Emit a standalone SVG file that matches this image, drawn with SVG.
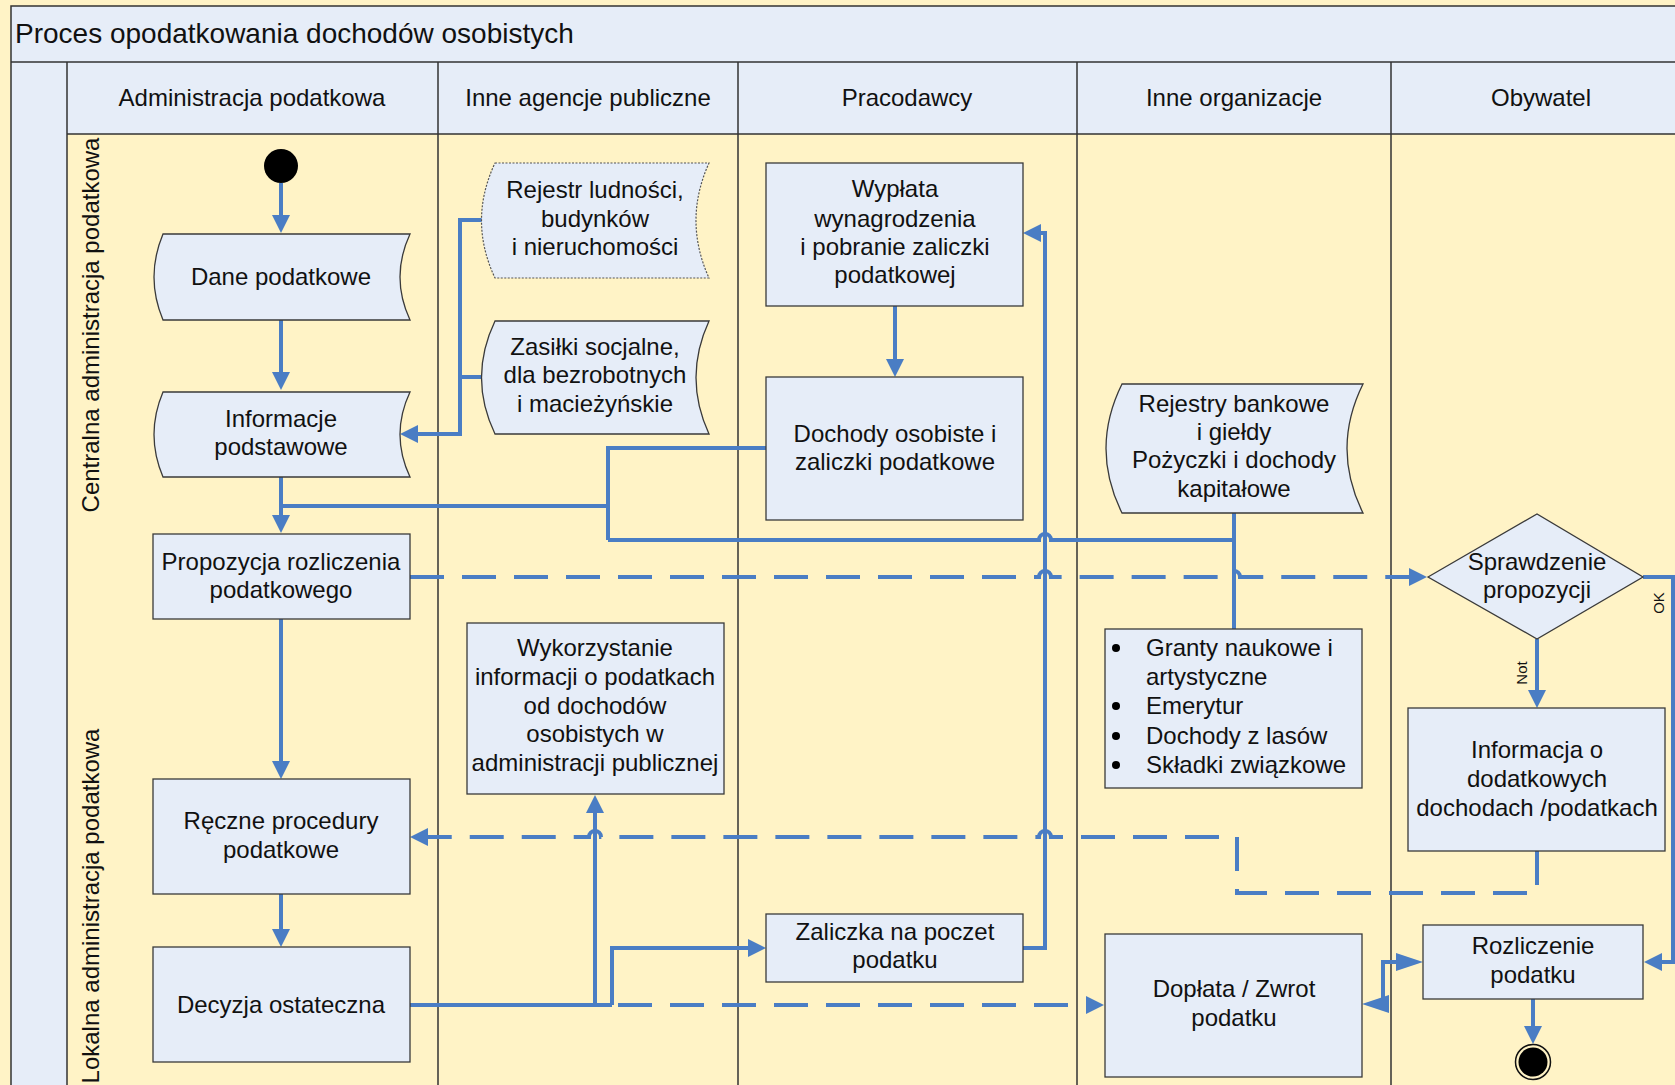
<svg xmlns="http://www.w3.org/2000/svg" width="1675" height="1085" viewBox="0 0 1675 1085">
<defs>
<style>
.bg{fill:#FFF3C6}
.hd{fill:#E6EDF8;stroke:none}
.ln{stroke:#333;stroke-width:1.5;fill:none}
.box{fill:#E6EDF8;stroke:#3a3a3a;stroke-width:1.3}
.dot{fill:#E6EDF8;stroke:#555;stroke-width:1.2;stroke-dasharray:2 1.5}
text{font-family:"Liberation Sans",Arial,sans-serif;fill:#111}
.t{font-size:24px;text-anchor:middle}
.tl{font-size:24px}
.ttl{font-size:28px}
.sm{font-size:15px;text-anchor:middle}
.c{fill:none;stroke:#4A7DC4;stroke-width:4}
.d{fill:none;stroke:#4A7DC4;stroke-width:4;stroke-dasharray:34 18}
</style>
<marker id="ah" viewBox="0 0 18 18" refX="10" refY="9" markerWidth="18" markerHeight="18" markerUnits="userSpaceOnUse" orient="auto-start-reverse">
<path d="M0,0 L18,9 L0,18 z" fill="#4A7DC4"/>
</marker>
<marker id="ah2" viewBox="0 0 27 18" refX="17" refY="9" markerWidth="27" markerHeight="18" markerUnits="userSpaceOnUse" orient="auto-start-reverse">
<path d="M0,0 L27,9 L0,18 z" fill="#4A7DC4"/>
</marker>
</defs>
<rect class="bg" x="0" y="0" width="1675" height="1085"/>
<g id="frame">
<rect class="hd" x="11" y="6" width="1680" height="56"/>
<rect class="hd" x="11" y="62" width="56" height="1030"/>
<rect class="hd" x="67" y="62" width="1620" height="72"/>
<path class="ln" d="M11,1085 V6 H1675 M11,62 H1675 M67,134 H1675 M67,62 V1085 M438,62 V1085 M738,62 V1085 M1077,62 V1085 M1391,62 V1085"/>
<text class="ttl" x="15" y="43">Proces opodatkowania dochodów osobistych</text>
<text class="t" x="252" y="106">Administracja podatkowa</text>
<text class="t" x="588" y="106">Inne agencje publiczne</text>
<text class="t" x="907" y="106">Pracodawcy</text>
<text class="t" x="1234" y="106">Inne organizacje</text>
<text class="t" x="1541" y="106">Obywatel</text>
<text class="t" transform="translate(99,325) rotate(-90)">Centralna administracja podatkowa</text>
<text class="t" transform="translate(99,906) rotate(-90)">Lokalna administracja podatkowa</text>
</g>
<g id="connectors">
<path class="c" d="M281,183 V225" marker-end="url(#ah)"/>
<path class="c" d="M281,320 V382" marker-end="url(#ah)"/>
<path class="c" d="M482,220 H460 V434 H408" marker-end="url(#ah)"/>
<path class="c" d="M482,377 H460"/>
<path class="c" d="M281,477 V525" marker-end="url(#ah)"/>
<path class="c" d="M766,448 H608 V540"/>
<path class="c" d="M608,506 H281"/>
<path class="c" d="M608,540 H1039 a6,6 0 0 1 12,0 H1234"/>
<path class="c" d="M1234,513 V629"/>
<path class="c" d="M895,306 V369" marker-end="url(#ah)"/>
<path class="d" d="M410,577 H1039 a6,6 0 0 1 12,0 H1228 a6,6 0 0 1 12,0 H1419" marker-end="url(#ah)"/>
<path class="c" d="M1537,639 V700" marker-end="url(#ah)"/>
<path class="c" d="M1643,577 H1673 V962 H1652" marker-end="url(#ah)"/>
<path class="d" d="M1537,851 V893 H1237 V837 H1051 a6,6 0 0 0 -12,0 H601 a6,6 0 0 0 -12,0 H418" marker-end="url(#ah)"/>
<path class="c" d="M281,619 V771" marker-end="url(#ah)"/>
<path class="c" d="M281,894 V939" marker-end="url(#ah)"/>
<path class="c" d="M410,1005 H612"/>
<path class="c" d="M595,1005 V803" marker-end="url(#ah)"/>
<path class="c" d="M612,1005 V948 H758" marker-end="url(#ah)"/>
<path class="d" d="M618,1005 H1096" marker-end="url(#ah)"/>
<path class="c" d="M1023,948 H1045 V233 H1031" marker-end="url(#ah)"/>
<path class="c" d="M1372,1004 H1383 V962 H1413" marker-start="url(#ah2)" marker-end="url(#ah2)"/>
<path class="c" d="M1533,999 V1036" marker-end="url(#ah)"/>
<text class="sm" transform="translate(1664,603) rotate(-90)">OK</text>
<text class="sm" transform="translate(1527,673) rotate(-90)">Not</text>
</g>
<g id="start"><circle cx="281" cy="166" r="17" fill="#000"/></g>
<g id="dane">
<path class="box" d="M163,234 H410 Q390,277 410,320 H163 Q145,277 163,234 Z"/>
<text class="t" x="281" y="285">Dane podatkowe</text>
</g>
<g id="informacje">
<path class="box" d="M163,392 H410 Q390,434.5 410,477 H163 Q145,434.5 163,392 Z"/>
<text class="t" x="281" y="427">Informacje</text>
<text class="t" x="281" y="455">podstawowe</text>
</g>
<g id="rejestr">
<path class="dot" d="M495,163 H709 Q683,220.5 709,278 H495 Q468,220.5 495,163 Z"/>
<text class="t" x="595" y="198">Rejestr ludności,</text>
<text class="t" x="595" y="227">budynków</text>
<text class="t" x="595" y="255">i nieruchomości</text>
</g>
<g id="zasilki">
<path class="box" d="M495,321 H709 Q683,377.5 709,434 H495 Q468,377.5 495,321 Z"/>
<text class="t" x="595" y="355">Zasiłki socjalne,</text>
<text class="t" x="595" y="383">dla bezrobotnych</text>
<text class="t" x="595" y="412">i macieżyńskie</text>
</g>
<g id="wyplata">
<rect class="box" x="766" y="163" width="257" height="143"/>
<text class="t" x="895" y="197">Wypłata</text>
<text class="t" x="895" y="227">wynagrodzenia</text>
<text class="t" x="895" y="255">i pobranie zaliczki</text>
<text class="t" x="895" y="283">podatkowej</text>
</g>
<g id="dochody">
<rect class="box" x="766" y="377" width="257" height="143"/>
<text class="t" x="895" y="442">Dochody osobiste i</text>
<text class="t" x="895" y="470">zaliczki podatkowe</text>
</g>
<g id="rejestry-bankowe">
<path class="box" d="M1122,384 H1363 Q1331,448.5 1363,513 H1122 Q1090,448.5 1122,384 Z"/>
<text class="t" x="1234" y="412">Rejestry bankowe</text>
<text class="t" x="1234" y="440">i giełdy</text>
<text class="t" x="1234" y="468">Pożyczki i dochody</text>
<text class="t" x="1234" y="497">kapitałowe</text>
</g>
<g id="propozycja">
<rect class="box" x="153" y="534" width="257" height="85"/>
<text class="t" x="281" y="570">Propozycja rozliczenia</text>
<text class="t" x="281" y="598">podatkowego</text>
</g>
<g id="sprawdzenie">
<path class="box" d="M1428,577 L1537,514 L1643,577 L1537,639 Z"/>
<text class="t" x="1537" y="570">Sprawdzenie</text>
<text class="t" x="1537" y="598">propozycji</text>
</g>
<g id="wykorzystanie">
<rect class="box" x="467" y="623" width="257" height="171"/>
<text class="t" x="595" y="656">Wykorzystanie</text>
<text class="t" x="595" y="685">informacji o podatkach</text>
<text class="t" x="595" y="714">od dochodów</text>
<text class="t" x="595" y="742">osobistych w</text>
<text class="t" x="595" y="771">administracji publicznej</text>
</g>
<g id="granty">
<rect class="box" x="1105" y="629" width="257" height="159"/>
<circle cx="1116" cy="648" r="4" fill="#000"/>
<circle cx="1116" cy="706" r="4" fill="#000"/>
<circle cx="1116" cy="736" r="4" fill="#000"/>
<circle cx="1116" cy="765" r="4" fill="#000"/>
<text class="tl" x="1146" y="656">Granty naukowe i</text>
<text class="tl" x="1146" y="685">artystyczne</text>
<text class="tl" x="1146" y="714">Emerytur</text>
<text class="tl" x="1146" y="744">Dochody z lasów</text>
<text class="tl" x="1146" y="773">Składki związkowe</text>
</g>
<g id="informacja">
<rect class="box" x="1408" y="708" width="257" height="143"/>
<text class="t" x="1537" y="758">Informacja o</text>
<text class="t" x="1537" y="787">dodatkowych</text>
<text class="t" x="1537" y="816">dochodach /podatkach</text>
</g>
<g id="reczne">
<rect class="box" x="153" y="779" width="257" height="115"/>
<text class="t" x="281" y="829">Ręczne procedury</text>
<text class="t" x="281" y="858">podatkowe</text>
</g>
<g id="zaliczka">
<rect class="box" x="766" y="914" width="257" height="68"/>
<text class="t" x="895" y="940">Zaliczka na poczet</text>
<text class="t" x="895" y="968">podatku</text>
</g>
<g id="decyzja">
<rect class="box" x="153" y="947" width="257" height="115"/>
<text class="t" x="281" y="1013">Decyzja ostateczna</text>
</g>
<g id="doplata">
<rect class="box" x="1105" y="934" width="257" height="143"/>
<text class="t" x="1234" y="997">Dopłata / Zwrot</text>
<text class="t" x="1234" y="1026">podatku</text>
</g>
<g id="rozliczenie">
<rect class="box" x="1423" y="925" width="220" height="74"/>
<text class="t" x="1533" y="954">Rozliczenie</text>
<text class="t" x="1533" y="983">podatku</text>
</g>
<g id="end">
<circle cx="1533" cy="1062" r="17.5" fill="#FFF3C6" stroke="#111" stroke-width="1.5"/>
<circle cx="1533" cy="1062" r="14.5" fill="#000"/>
</g>
</svg>
